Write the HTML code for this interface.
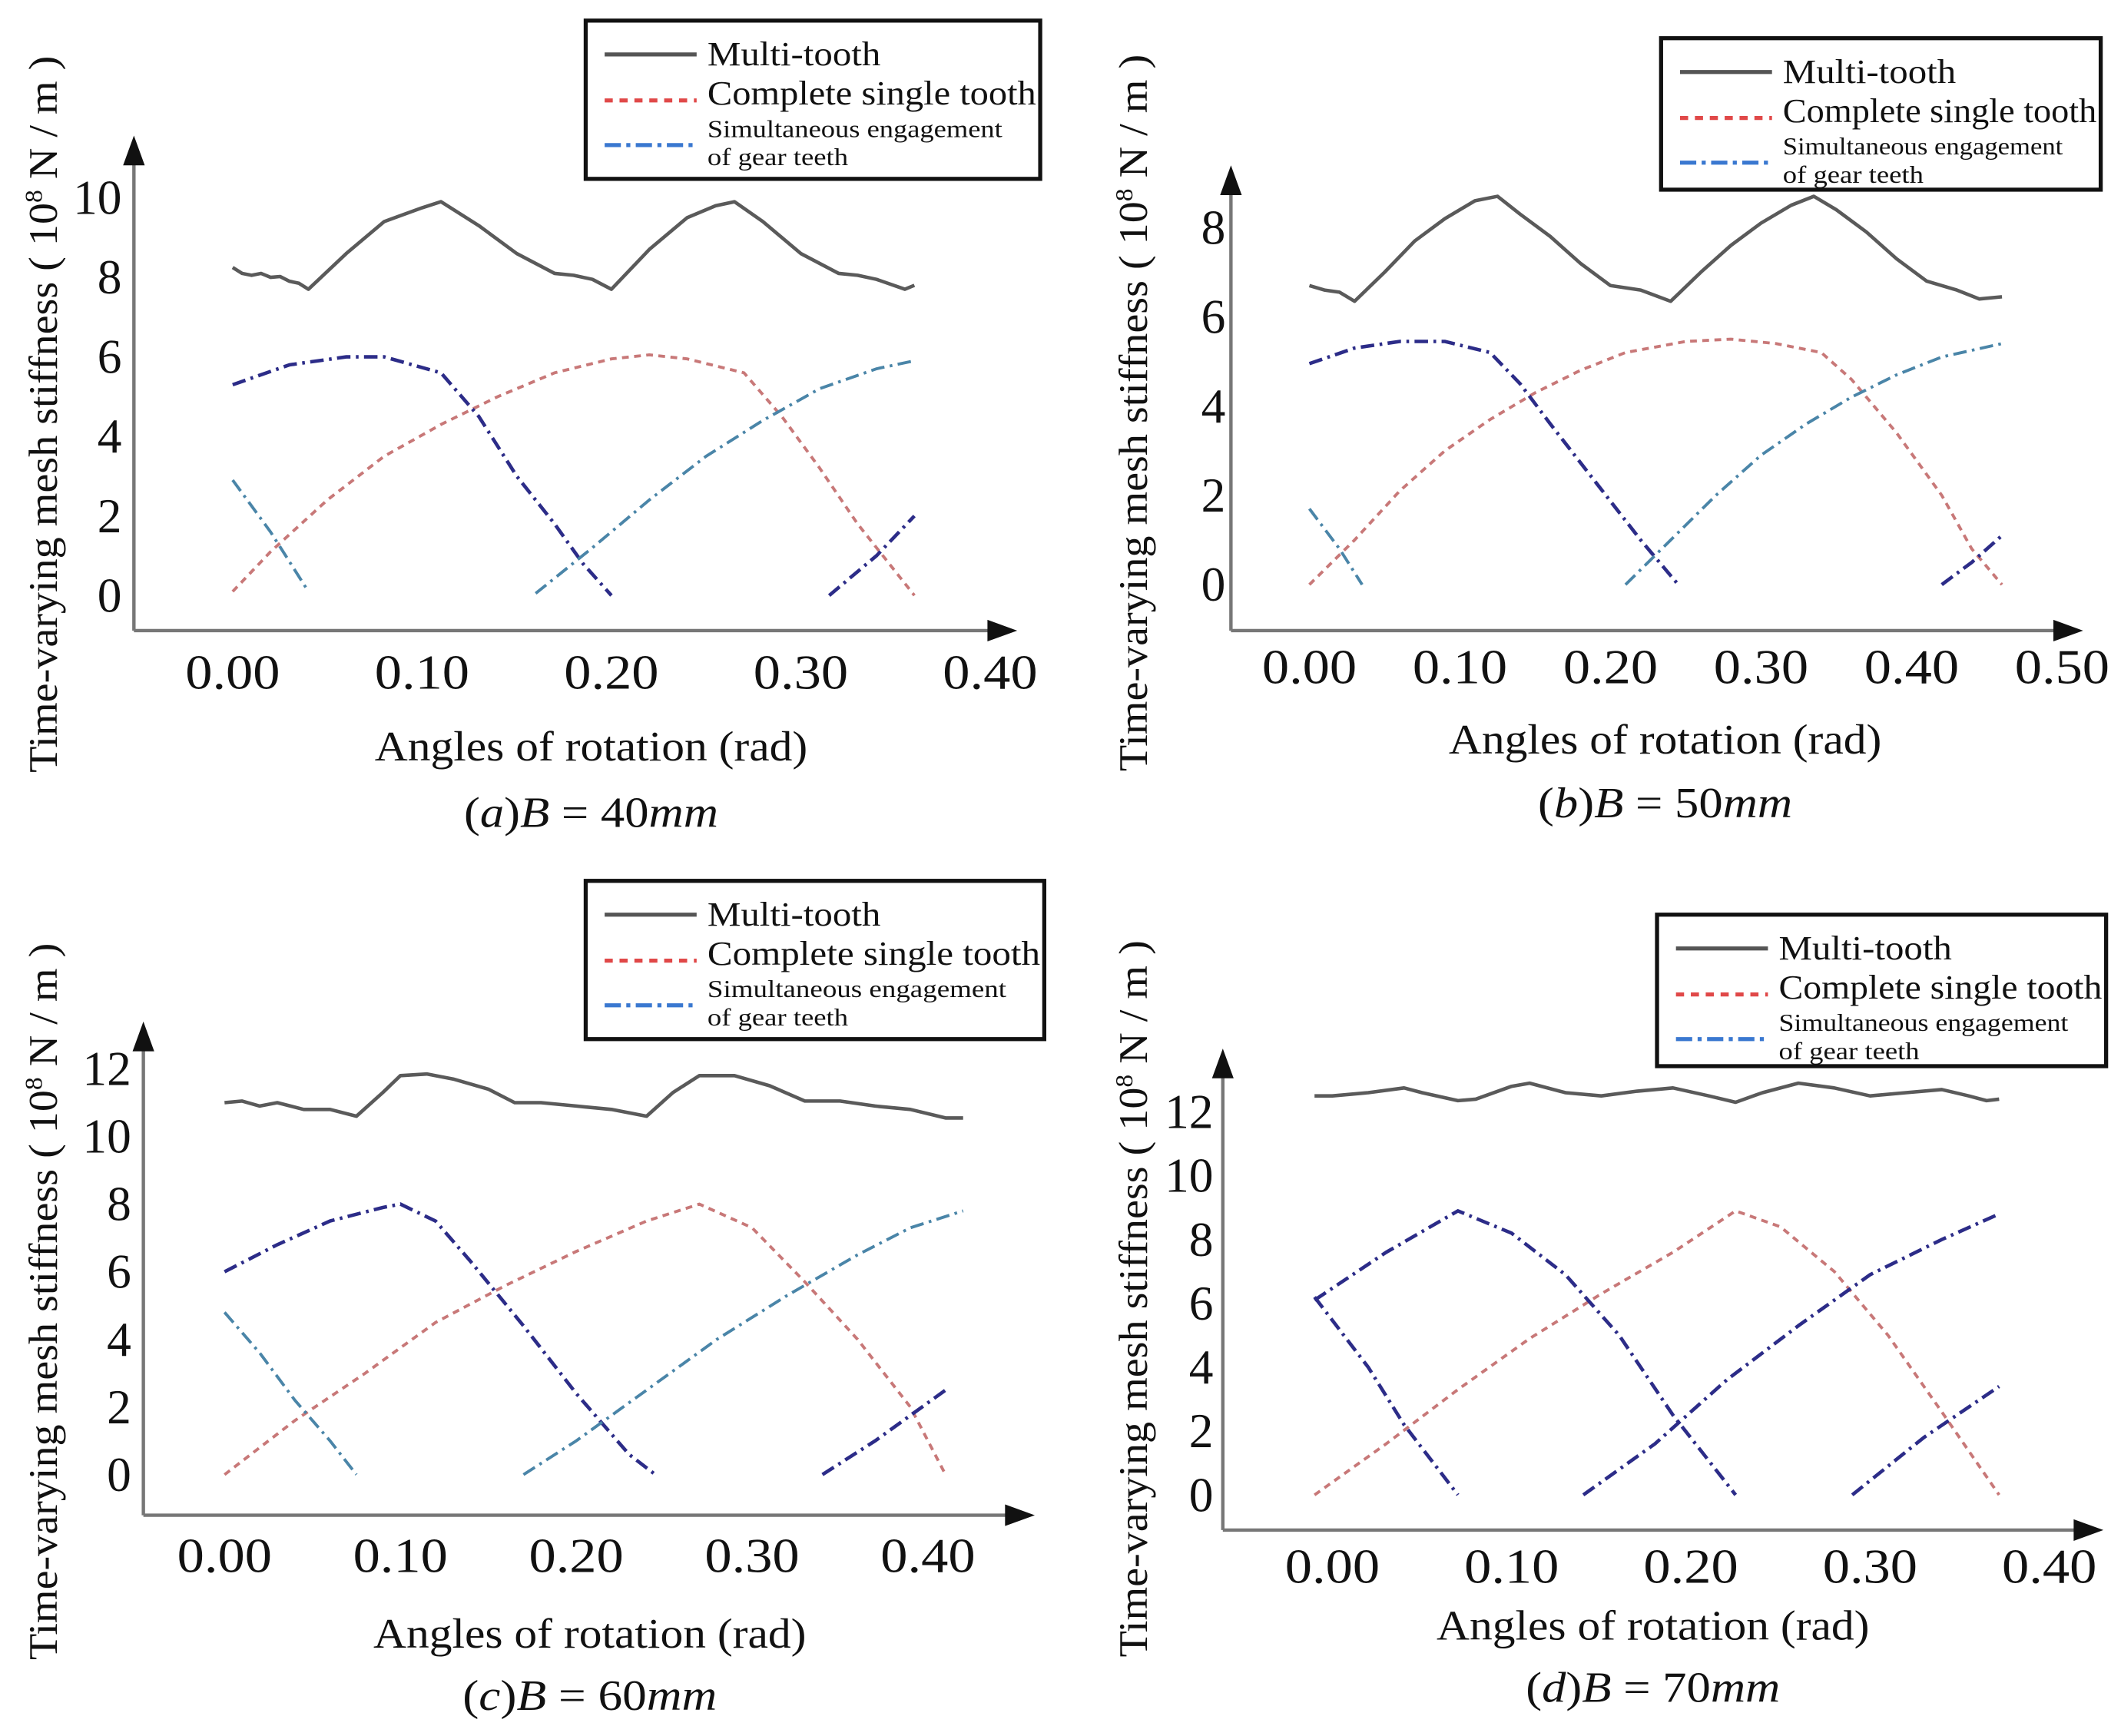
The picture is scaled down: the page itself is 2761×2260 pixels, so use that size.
<!DOCTYPE html>
<html><head><meta charset="utf-8">
<style>
html,body{margin:0;padding:0;background:#fff;}
svg{display:block;}
text{font-family:"Liberation Serif",serif;fill:#111;}
</style></head>
<body>
<svg id="fig" width="2761" height="2260" viewBox="0 0 1568 1283" xmlns="http://www.w3.org/2000/svg"></svg>
<script>
// ---------- Panel (a) B=40mm ----------
const aMulti = [[0,8.25],[0.005,8.1],[0.01,8.05],[0.015,8.1],[0.02,8.0],[0.025,8.02],[0.03,7.9],[0.035,7.85],[0.04,7.7],[0.06,8.6],[0.08,9.4],[0.1,9.75],[0.11,9.9],[0.13,9.3],[0.15,8.6],[0.17,8.1],[0.18,8.05],[0.19,7.95],[0.2,7.7],[0.22,8.7],[0.24,9.5],[0.255,9.8],[0.265,9.9],[0.28,9.4],[0.3,8.6],[0.32,8.1],[0.33,8.05],[0.34,7.95],[0.355,7.7],[0.36,7.8]];
const aSingle = [[0,0.1],[0.02,1.1],[0.05,2.4],[0.08,3.5],[0.11,4.3],[0.14,5.0],[0.17,5.6],[0.2,5.95],[0.22,6.05],[0.24,5.95],[0.27,5.6],[0.29,4.5],[0.31,3.2],[0.33,1.8],[0.36,0]];
const aNavy = [[[0,5.3],[0.03,5.8],[0.06,6.0],[0.08,6.0],[0.11,5.6],[0.13,4.5],[0.15,3.0],[0.17,1.8],[0.185,0.8],[0.2,0]],[[0.315,0],[0.34,1.0],[0.36,2.0]]];
const aLight = [[[0,2.9],[0.02,1.6],[0.04,0.1]],[[0.16,0.05],[0.19,1.2],[0.22,2.4],[0.25,3.5],[0.28,4.4],[0.31,5.2],[0.34,5.7],[0.36,5.9]]];
const aYTicks = [0,2,4,6,8,10];
const aXTicks = ["0.00","0.10","0.20","0.30","0.40"];
// ---------- Panel (b) B=50mm ----------
const bMulti = [[0,6.7],[0.01,6.6],[0.02,6.55],[0.03,6.35],[0.05,7.0],[0.07,7.7],[0.09,8.2],[0.11,8.6],[0.125,8.7],[0.14,8.3],[0.16,7.8],[0.18,7.2],[0.2,6.7],[0.22,6.6],[0.24,6.35],[0.26,7.0],[0.28,7.6],[0.3,8.1],[0.32,8.5],[0.335,8.7],[0.35,8.4],[0.37,7.9],[0.39,7.3],[0.41,6.8],[0.43,6.6],[0.445,6.4],[0.46,6.45]];
const bSingle = [[0,0],[0.03,1.0],[0.06,2.1],[0.09,3.0],[0.12,3.7],[0.15,4.3],[0.18,4.8],[0.21,5.2],[0.25,5.45],[0.28,5.5],[0.31,5.4],[0.34,5.2],[0.36,4.6],[0.39,3.4],[0.42,2.0],[0.44,0.8],[0.46,0]];
const bNavy = [[[0,4.95],[0.03,5.3],[0.06,5.45],[0.09,5.45],[0.12,5.2],[0.14,4.5],[0.16,3.6],[0.19,2.3],[0.22,1.0],[0.245,0]],[[0.42,0],[0.44,0.5],[0.46,1.1]]];
const bLight = [[[0,1.7],[0.02,0.8],[0.035,0]],[[0.21,0],[0.24,1.0],[0.27,2.0],[0.3,2.9],[0.33,3.6],[0.36,4.2],[0.39,4.7],[0.42,5.1],[0.46,5.4]]];
const bYTicks = [0,2,4,6,8];
const bXTicks = ["0.00","0.10","0.20","0.30","0.40","0.50"];
// ---------- Panel (c) B=60mm ----------
const cMulti = [[0,11],[0.01,11.05],[0.02,10.9],[0.03,11.0],[0.045,10.8],[0.06,10.8],[0.075,10.6],[0.09,11.3],[0.1,11.8],[0.115,11.85],[0.13,11.7],[0.15,11.4],[0.165,11],[0.18,11.0],[0.2,10.9],[0.22,10.8],[0.24,10.6],[0.255,11.3],[0.27,11.8],[0.29,11.8],[0.31,11.5],[0.33,11.05],[0.35,11.05],[0.37,10.9],[0.39,10.8],[0.41,10.55],[0.42,10.55]];
const cSingle = [[0,0],[0.04,1.6],[0.08,3.0],[0.12,4.5],[0.16,5.6],[0.2,6.6],[0.24,7.5],[0.27,8.0],[0.3,7.3],[0.33,5.7],[0.36,4.0],[0.39,2.0],[0.41,0]];
const cNavy = [[[0,6.0],[0.03,6.8],[0.06,7.5],[0.09,7.9],[0.1,8.0],[0.12,7.5],[0.14,6.3],[0.17,4.4],[0.2,2.4],[0.23,0.6],[0.245,0]],[[0.34,0],[0.37,1.0],[0.41,2.5]]];
const cLight = [[[0,4.8],[0.02,3.6],[0.04,2.2],[0.06,1.0],[0.075,0]],[[0.17,0],[0.2,1.0],[0.24,2.5],[0.28,4.0],[0.32,5.3],[0.36,6.5],[0.39,7.3],[0.42,7.8]]];
const cYTicks = [0,2,4,6,8,10,12];
const cXTicks = ["0.00","0.10","0.20","0.30","0.40"];
// ---------- Panel (d) B=70mm ----------
const dMulti = [[-0.01,12.5],[0,12.5],[0.02,12.6],[0.04,12.75],[0.05,12.6],[0.07,12.35],[0.08,12.4],[0.1,12.8],[0.11,12.9],[0.13,12.6],[0.15,12.5],[0.17,12.65],[0.19,12.75],[0.21,12.5],[0.225,12.3],[0.24,12.6],[0.26,12.9],[0.28,12.75],[0.3,12.5],[0.32,12.6],[0.34,12.7],[0.355,12.5],[0.365,12.35],[0.372,12.4]];
const dSingle = [[-0.01,0],[0.03,1.6],[0.07,3.3],[0.11,4.9],[0.15,6.3],[0.19,7.6],[0.225,8.9],[0.25,8.4],[0.28,7.0],[0.31,5.0],[0.34,2.6],[0.372,0]];
const dNavy = [[[-0.01,6.1],[0.03,7.6],[0.07,8.9],[0.1,8.2],[0.13,6.9],[0.16,5.0],[0.19,2.5],[0.225,0]],[[-0.01,6.2],[0.02,4.0],[0.04,2.2],[0.07,0]],[[0.14,0],[0.18,1.6],[0.22,3.6],[0.26,5.3],[0.3,6.9],[0.34,8.0],[0.372,8.8]],[[0.29,0],[0.33,1.8],[0.372,3.4]]];
const dLight = [];
const dYTicks = [0,2,4,6,8,10,12];
const dXTicks = ["0.00","0.10","0.20","0.30","0.40"];

const NS="http://www.w3.org/2000/svg";
const svg=document.getElementById('fig');
function el(tag,attrs,parent,txt){const e=document.createElementNS(NS,tag);for(const k in attrs)e.setAttribute(k,attrs[k]);if(txt!==undefined)e.textContent=txt;(parent||svg).appendChild(e);return e;}

const layouts={
 a:{id:'a',B:'40',ax:99,top:100,ay:466,right:752,x0:172,pxr:1400,y0:440,pyu:29.4,tickY:497,legend:[433,15,336,117],ytx:32,ytCy:306,xtCx:437,xtY:552,capY:600,ylabX:90},
 b:{id:'b',B:'50',ax:910,top:122,ay:466,right:1540,x0:968,pxr:1113,y0:432,pyu:33,tickY:493,legend:[1228,28,325,112],ytx:838,ytCy:305,xtCx:1231,xtY:547,capY:593,ylabX:906},
 c:{id:'c',B:'60',ax:106,top:755,ay:1120,right:765,x0:166,pxr:1300,y0:1090,pyu:25,tickY:1150,legend:[433,651,339,117],ytx:32,ytCy:962,xtCx:436,xtY:1208,capY:1253,ylabX:97},
 d:{id:'d',B:'70',ax:904,top:775,ay:1131,right:1555,x0:985,pxr:1325,y0:1105,pyu:23.6,tickY:1158,legend:[1225,676,332,112],ytx:838,ytCy:960,xtCx:1222,xtY:1202,capY:1247,ylabX:897}
};
const data={
 a:{multi:aMulti,single:aSingle,navy:aNavy,light:aLight,yt:aYTicks,xt:aXTicks},
 b:{multi:bMulti,single:bSingle,navy:bNavy,light:bLight,yt:bYTicks,xt:bXTicks},
 c:{multi:cMulti,single:cSingle,navy:cNavy,light:cLight,yt:cYTicks,xt:cXTicks},
 d:{multi:dMulti,single:dSingle,navy:dNavy,light:dLight,yt:dYTicks,xt:dXTicks}
};

function drawPanel(L,D){
 const g=el('g',{});
 
 
 const X=v=>L.x0+v*L.pxr, Y=v=>L.y0-v*L.pyu;
 const pts=a=>a.map(p=>X(p[0]).toFixed(1)+','+Y(p[1]).toFixed(1)).join(' ');
 const ya=el('line',{x1:L.ax,y1:L.ay,x2:L.ax,y2:L.top+16,stroke:'#777','stroke-width':2.5},g);
 
 const xa=el('line',{x1:L.ax,y1:L.ay,x2:L.right-16,y2:L.ay,stroke:'#777','stroke-width':2.5},g);
 
 el('polygon',{points:`${L.ax},${L.top} ${L.ax-8},${L.top+22} ${L.ax+8},${L.top+22}`,fill:'#111'},g);
 el('polygon',{points:`${L.right},${L.ay} ${L.right-22},${L.ay-8} ${L.right-22},${L.ay+8}`,fill:'#111'},g);
 D.yt.forEach(v=>{const s=String(v);const t=el('text',{x:L.ylabX,y:Y(v)+12,'text-anchor':'end','font-size':36,textLength:s.length*18,lengthAdjust:'spacingAndGlyphs'},g,s);
  });
 D.xt.forEach(s=>{const t=el('text',{x:X(parseFloat(s)),y:L.tickY+12,'text-anchor':'middle','font-size':36,textLength:70,lengthAdjust:'spacingAndGlyphs'},g,s);
  });
 const m=el('polyline',{points:pts(D.multi),fill:'none',stroke:'#5a5a5a','stroke-width':2.6,'stroke-linejoin':'round'},g);
 
 const s=el('polyline',{points:pts(D.single),fill:'none',stroke:'#c87878','stroke-width':2.2,'stroke-dasharray':'5 4'},g);
 
 D.navy.forEach(seg=>{const p=el('polyline',{points:pts(seg),fill:'none',stroke:'#2c2c88','stroke-width':2.6,'stroke-dasharray':'10 4 2 4'},g);
  });
 D.light.forEach(seg=>{const p=el('polyline',{points:pts(seg),fill:'none',stroke:'#4a85a8','stroke-width':2.2,'stroke-dasharray':'10 4 2 4'},g);
  });
 const [lx,ly,lw,lh]=L.legend;
 const lg=el('g',{},g);
 
 el('rect',{x:lx,y:ly,width:lw,height:lh,fill:'#fff',stroke:'#111','stroke-width':3},lg);
 el('line',{x1:lx+14,y1:ly+25,x2:lx+82,y2:ly+25,stroke:'#555','stroke-width':3},lg);
 el('text',{x:lx+90,y:ly+33,'font-size':25,textLength:128,lengthAdjust:'spacingAndGlyphs'},lg,'Multi-tooth');
 el('line',{x1:lx+14,y1:ly+59,x2:lx+82,y2:ly+59,stroke:'#e04848','stroke-width':3,'stroke-dasharray':'6 5'},lg);
 el('text',{x:lx+90,y:ly+62,'font-size':25,textLength:lw-93,lengthAdjust:'spacingAndGlyphs'},lg,'Complete single tooth');
 el('text',{x:lx+90,y:ly+86,'font-size':18,textLength:lw-118,lengthAdjust:'spacingAndGlyphs'},lg,'Simultaneous engagement');
 el('line',{x1:lx+14,y1:ly+92,x2:lx+82,y2:ly+92,stroke:'#3a78d0','stroke-width':3,'stroke-dasharray':'12 4 3 4'},lg);
 el('text',{x:lx+90,y:ly+107,'font-size':18,textLength:104,lengthAdjust:'spacingAndGlyphs'},lg,'of gear teeth');
 const yt=el('text',{x:0,y:0,'font-size':30,'text-anchor':'middle',textLength:530,lengthAdjust:'spacingAndGlyphs',transform:`translate(${L.ytx+10},${L.ytCy}) rotate(-90)`},g);
 
 el('tspan',{},yt,'Time-varying mesh stiffness ( 10');
 el('tspan',{'font-size':18,dy:-11},yt,'8');
 el('tspan',{dy:11},yt,' N / m )');
 const xt=el('text',{x:L.xtCx,y:L.xtY+10,'font-size':31,'text-anchor':'middle',textLength:320,lengthAdjust:'spacingAndGlyphs'},g,'Angles of rotation (rad)');
 
 const cap=el('text',{x:L.xtCx,y:L.capY+11,'font-size':32,'text-anchor':'middle',textLength:188,lengthAdjust:'spacingAndGlyphs'},g);
 
 el('tspan',{},cap,'(');
 el('tspan',{'font-style':'italic'},cap,L.id);
 el('tspan',{},cap,')');
 el('tspan',{'font-style':'italic'},cap,'B');
 el('tspan',{},cap,' = '+L.B);
 el('tspan',{'font-style':'italic'},cap,'mm');
}
['a','b','c','d'].forEach(k=>drawPanel(layouts[k],data[k]));
</script>
</body></html>
